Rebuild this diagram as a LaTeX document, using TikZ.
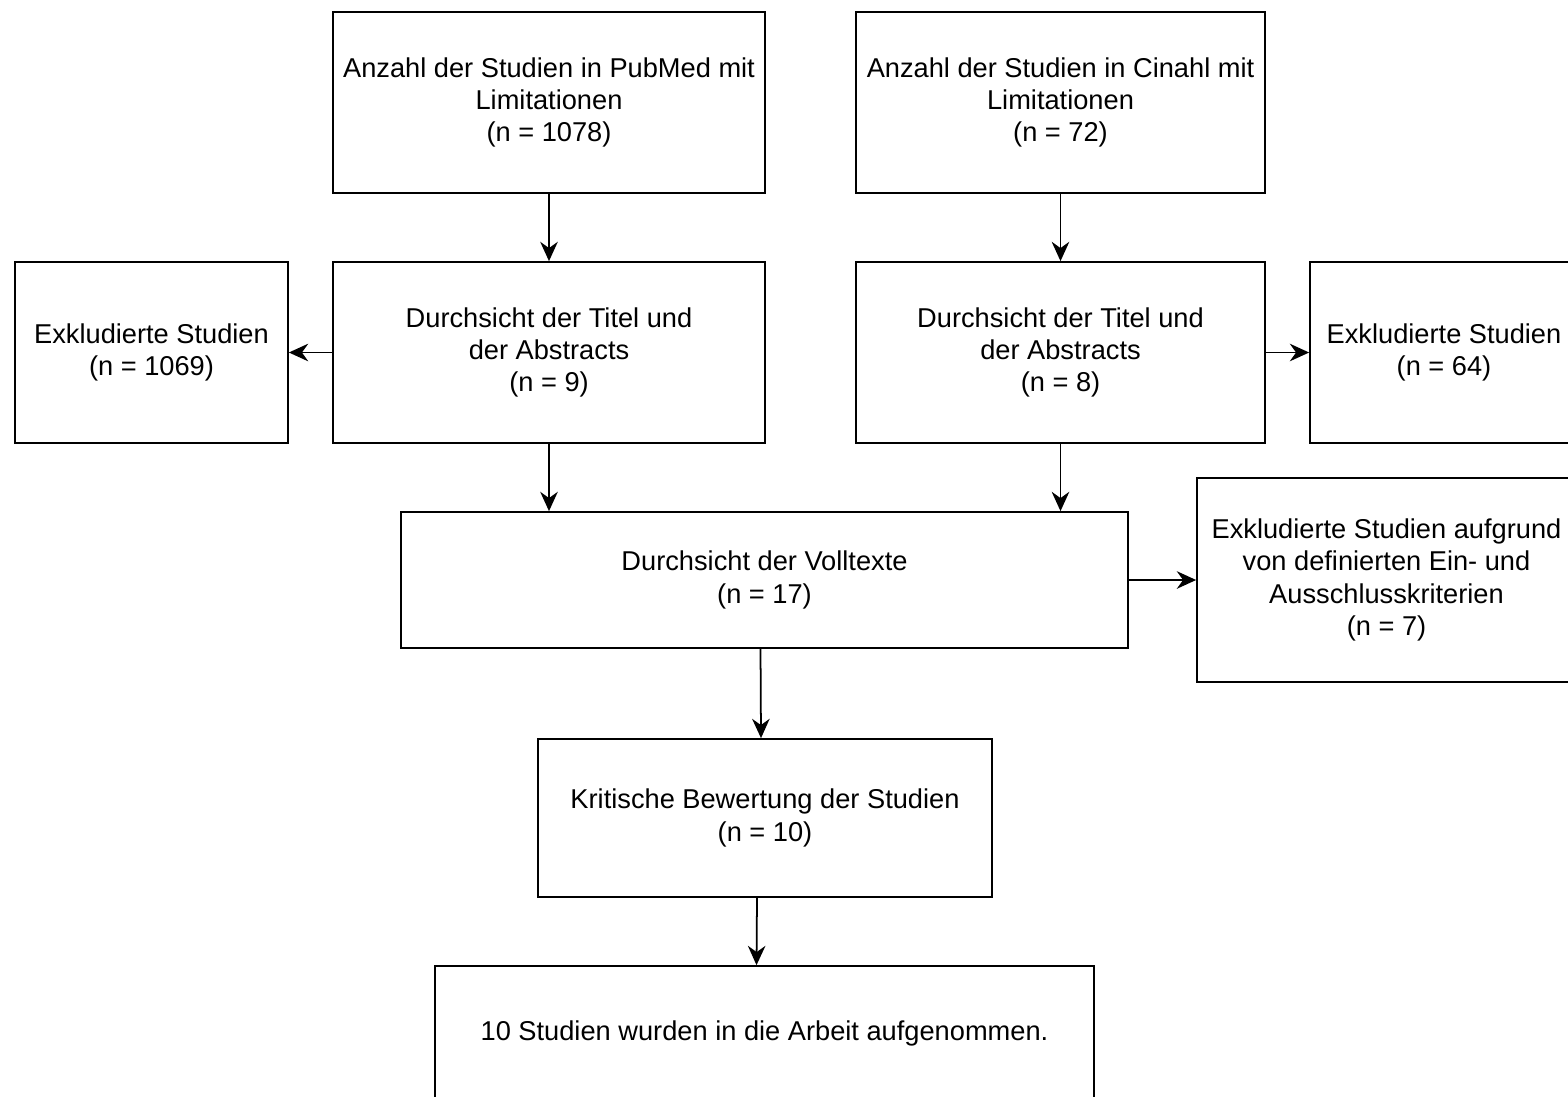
\documentclass[tikz,border=0pt]{standalone}
\usepackage{fontspec}
\setmainfont{Liberation Sans}
\usetikzlibrary{arrows.meta}

\begin{document}
\begin{tikzpicture}[x=0.02cm, y=-0.02cm]
  % Styles
  \tikzset{
    box/.style={draw=black, line width=1pt, align=center, inner sep=0pt,
      font=\fontsize{15.5}{18.3}\selectfont},
    pfeil/.style={-{Stealth[length=11pt, width=10pt]}, line width=1pt},
  }

  % Rahmen
  \useasboundingbox (0,0) rectangle (1568,1096);
  \clip (0,0) rectangle (1568,1096);

  % Quellen
  \node[box, minimum width=432*0.02cm, minimum height=181*0.02cm] (pubmed) at (549,102.5)
    {Anzahl der Studien in PubMed mit\\Limitationen\\(n = 1078)};
  \node[box, minimum width=409*0.02cm, minimum height=181*0.02cm] (cinahl) at (1060.5,102.5)
    {Anzahl der Studien in Cinahl mit\\Limitationen\\(n = 72)};

  % Titel und Abstracts
  \node[box, minimum width=432*0.02cm, minimum height=181*0.02cm] (titelp) at (549,352.5)
    {Durchsicht der Titel und\\der Abstracts\\(n = 9)};
  \node[box, minimum width=409*0.02cm, minimum height=181*0.02cm] (titelc) at (1060.5,352.5)
    {Durchsicht der Titel und\\der Abstracts\\(n = 8)};
  \node[box, minimum width=273*0.02cm, minimum height=181*0.02cm] (exklp) at (151.5,352.5)
    {Exkludierte Studien\\(n = 1069)};
  \node[box, minimum width=268*0.02cm, minimum height=181*0.02cm] (exklc) at (1444,352.5)
    {Exkludierte Studien\\(n = 64)};

  % Volltexte
  \node[box, minimum width=727*0.02cm, minimum height=136*0.02cm] (voll) at (764.5,580)
    {Durchsicht der Volltexte\\(n = 17)};
  \node[box, minimum width=379*0.02cm, minimum height=204*0.02cm] (exklv) at (1386.5,580)
    {Exkludierte Studien aufgrund\\von definierten Ein- und\\Ausschlusskriterien\\(n = 7)};

  % Bewertung und Ergebnis
  \node[box, minimum width=454*0.02cm, minimum height=158*0.02cm] (kritik) at (765,818)
    {Kritische Bewertung der Studien\\(n = 10)};
  \node[box, minimum width=659*0.02cm, minimum height=134*0.02cm] (ende) at (764.5,1033)
    {10 Studien wurden in die Arbeit aufgenommen.};

  % Pfeile
  \draw[pfeil] (pubmed) -- (titelp);
  \draw[pfeil] (cinahl) -- (titelc);
  \draw[pfeil] (titelp) -- (exklp);
  \draw[pfeil] (titelc) -- (exklc);
  \draw[pfeil] (titelp.south) -- (titelp.south |- voll.north);
  \draw[pfeil] (titelc.south) -- (titelc.south |- voll.north);
  \draw[pfeil] (voll) -- (exklv);
  \draw[pfeil] ([xshift=-0.08cm]voll.south) -- ([xshift=-0.08cm]kritik.north);
  \draw[pfeil] ([xshift=-0.16cm]kritik.south) -- ([xshift=-0.16cm]ende.north);

\end{tikzpicture}
\end{document}
